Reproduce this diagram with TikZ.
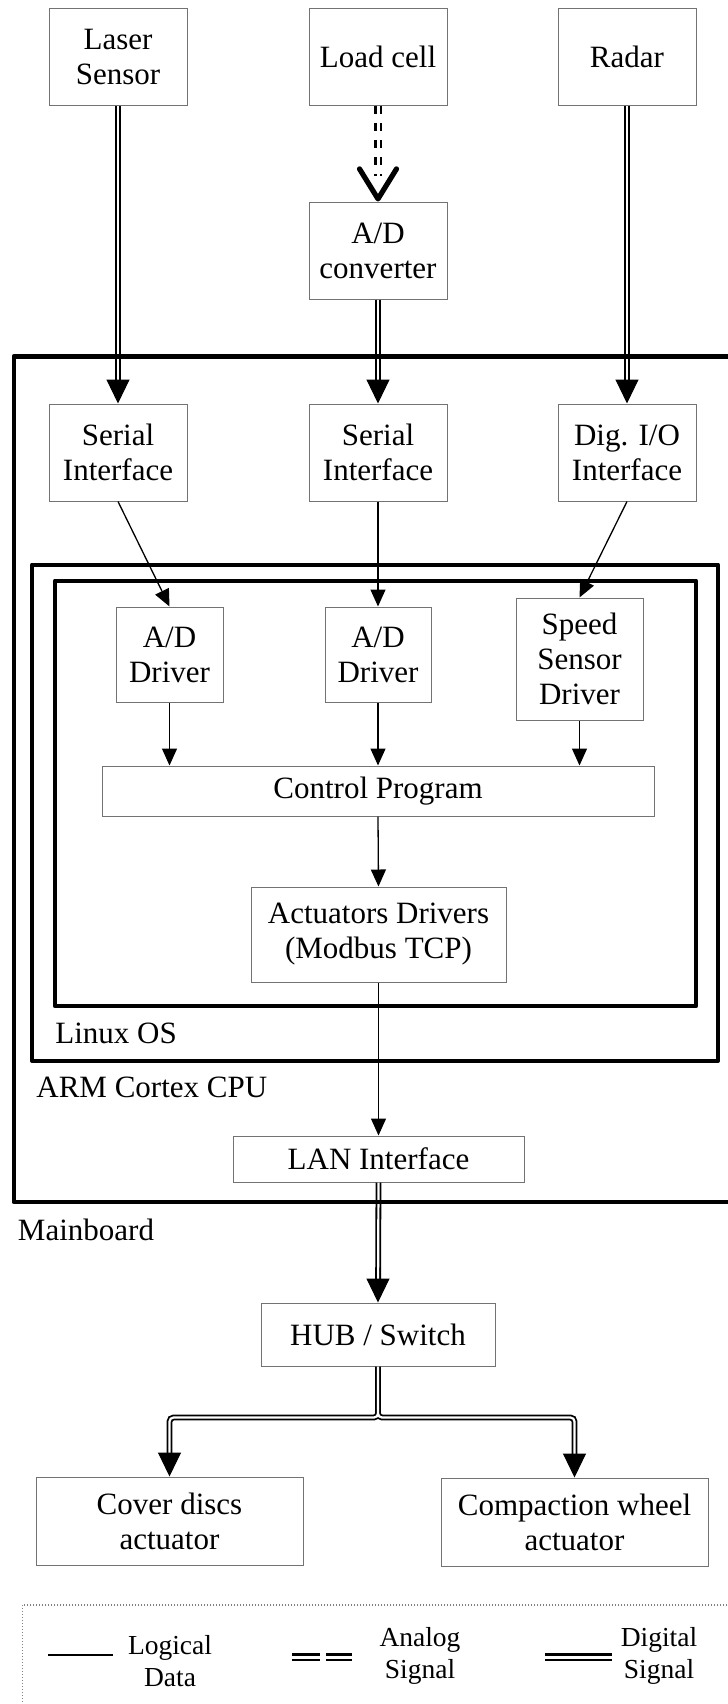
\documentclass[tikz,border=0pt]{standalone}
\usepackage{fontspec}
\setmainfont{Liberation Serif}
\usetikzlibrary{arrows.meta}

\newcommand{\boxfont}{\fontsize{15.5pt}{17.5pt}\selectfont}
\newcommand{\keyfont}{\fontsize{13.75pt}{16pt}\selectfont}

\begin{document}
\begin{tikzpicture}[x=0.5pt, y=-0.5pt,
    box/.style={draw=black!55, line width=0.5pt, fill=white, align=center, inner sep=0pt, font=\boxfont},
    unit/.style={box, minimum width=69pt, minimum height=48.5pt},
    frame/.style={line width=2.2pt, line join=round},
    framelbl/.style={anchor=west, inner sep=0pt, font=\boxfont},
    logic/.style={line width=0.65pt, -{Triangle[length=8.5pt, width=7.5pt]}},
    digital/.style={double, double distance=1.1pt, line width=0.9pt},
    analog/.style={double, double distance=1.5pt, line width=1.3pt, dash pattern=on 4pt off 4.5pt},
    dtip/.style={line width=0.5pt, -{Triangle[length=12pt, width=11.5pt]}},
    vtip/.style={-{Straight Barb[length=15pt, width=18.5pt, round, line width=2.6pt]}}]

    \useasboundingbox (0,0) rectangle (728,1704);

    % Sensors
    \node[unit] (laser) at (118,57) {Laser\\Sensor};
    \node[unit] (load) at (378,57) {Load cell};
    \node[unit] (radar) at (627,57) {Radar};
    \node[unit] (adc) at (378,250.5) {A/D\\converter};

    % Mainboard interfaces
    \node[unit] (ser1) at (118,452.5) {Serial\\Interface};
    \node[unit] (ser2) at (378,452.5) {Serial\\Interface};
    \node[unit] (dio) at (627,452.5) {Dig. I/O\\Interface};

    % Drivers and program
    \node[box, minimum width=53.5pt, minimum height=47.5pt] (add1) at (169.5,654.5) {A/D\\Driver};
    \node[box, minimum width=53pt, minimum height=47.5pt] (add2) at (378,654.5) {A/D\\Driver};
    \node[box, minimum width=63.5pt, minimum height=61pt] (ssd) at (579.5,659) {Speed\\Sensor\\Driver};
    \node[box, minimum width=276pt, minimum height=25pt] (ctrl) at (378,791) {Control Program};
    \node[box, minimum width=127.5pt, minimum height=47.5pt] (act) at (378.5,934.5) {Actuators Drivers\\(Modbus TCP)};
    \node[box, minimum width=145.5pt, minimum height=23pt] (lan) at (378.5,1159) {LAN Interface};

    % Network side
    \node[box, minimum width=117pt, minimum height=31.5pt] (hub) at (378,1334.5) {HUB / Switch};
    \node[box, minimum width=133.5pt, minimum height=44pt] (cover) at (169.5,1521) {Cover discs\\actuator};
    \node[box, minimum width=133.5pt, minimum height=44pt] (comp) at (574.5,1522) {Compaction wheel\\actuator};

    % Analog signal
    \draw[analog, shorten >=13pt] (load.south) -- (adc.north);
    \draw[vtip] ([yshift=1pt]adc.north) -- (adc.north);

    % Digital signals
    \draw[digital, shorten >=11pt] (laser.south) -- (ser1.north);
    \draw[dtip] ([yshift=1pt]ser1.north) -- (ser1.north);
    \draw[digital, shorten >=11pt] (adc.south) -- (ser2.north);
    \draw[dtip] ([yshift=1pt]ser2.north) -- (ser2.north);
    \draw[digital, shorten >=11pt] (radar.south) -- (dio.north);
    \draw[dtip] ([yshift=1pt]dio.north) -- (dio.north);

    % Logical data
    \draw[logic] (ser1.south) -- (add1.north);
    \draw[logic] (ser2.south) -- (add2.north);
    \draw[logic] (dio.south) -- (ssd.north);
    \draw[logic] (add1.south) -- (add1.south |- ctrl.north);
    \draw[logic] (add2.south) -- (add2.south |- ctrl.north);
    \draw[logic] (ssd.south) -- (ssd.south |- ctrl.north);
    \draw[logic] (ctrl.south) -- (act.north);
    \draw[logic] (act.south) -- (lan.north);

    % Network
    \draw[digital, shorten >=11pt] (lan.south) -- (hub.north);
    \draw[dtip] ([yshift=1pt]hub.north) -- (hub.north);
    \draw[digital, rounded corners=2pt] (hub.south) -- ++(0,51) -| ([yshift=11pt]cover.north)
        (hub.south) -- ++(0,51) -| ([yshift=11pt]comp.north);
    \draw[dtip] ([yshift=1pt]cover.north) -- (cover.north);
    \draw[dtip] ([yshift=1pt]comp.north) -- (comp.north);

    % Frames
    \draw[frame] (13.7,356.3) rectangle (760,1202);
    \draw[frame] (32,564.7) rectangle (718,1060.7);
    \draw[frame] (55,580.7) rectangle (696,1006);
    \node[framelbl] (linuxlbl) at (55,1033) {Linux OS};
    \node[framelbl] (armlbl) at (36,1087) {ARM Cortex CPU};
    \node[framelbl] (mainlbl) at (17.6,1230) {Mainboard};

    % Legend
    \draw[draw=black!50, line width=0.6pt, dash pattern=on 0.6pt off 0.9pt] (22.7,1605) rectangle (760,1760);
    \coordinate (keyla) at (48,1655);
    \coordinate (keylb) at (113,1655);
    \draw[line width=0.75pt] (keyla) -- (keylb);
    \node[font=\keyfont, align=center, inner sep=0pt] (keyltxt) at (170,1661) {Logical\\Data};
    \coordinate (keyaa) at (292,1657);
    \coordinate (keyab) at (351.5,1657);
    \draw[double, double distance=1.5pt, line width=1.25pt, dash pattern=on 14pt off 3pt] (keyaa) -- (keyab);
    \node[font=\keyfont, align=center, inner sep=0pt] (keyatxt) at (420,1656) {Analog\\Signal};
    \coordinate (keyda) at (545,1657);
    \coordinate (keydb) at (612,1657);
    \draw[double, double distance=1.5pt, line width=1.25pt] (keyda) -- (keydb);
    \node[font=\keyfont, align=center, inner sep=0pt] (keydtxt) at (659,1656) {Digital\\Signal};
\end{tikzpicture}
\end{document}
